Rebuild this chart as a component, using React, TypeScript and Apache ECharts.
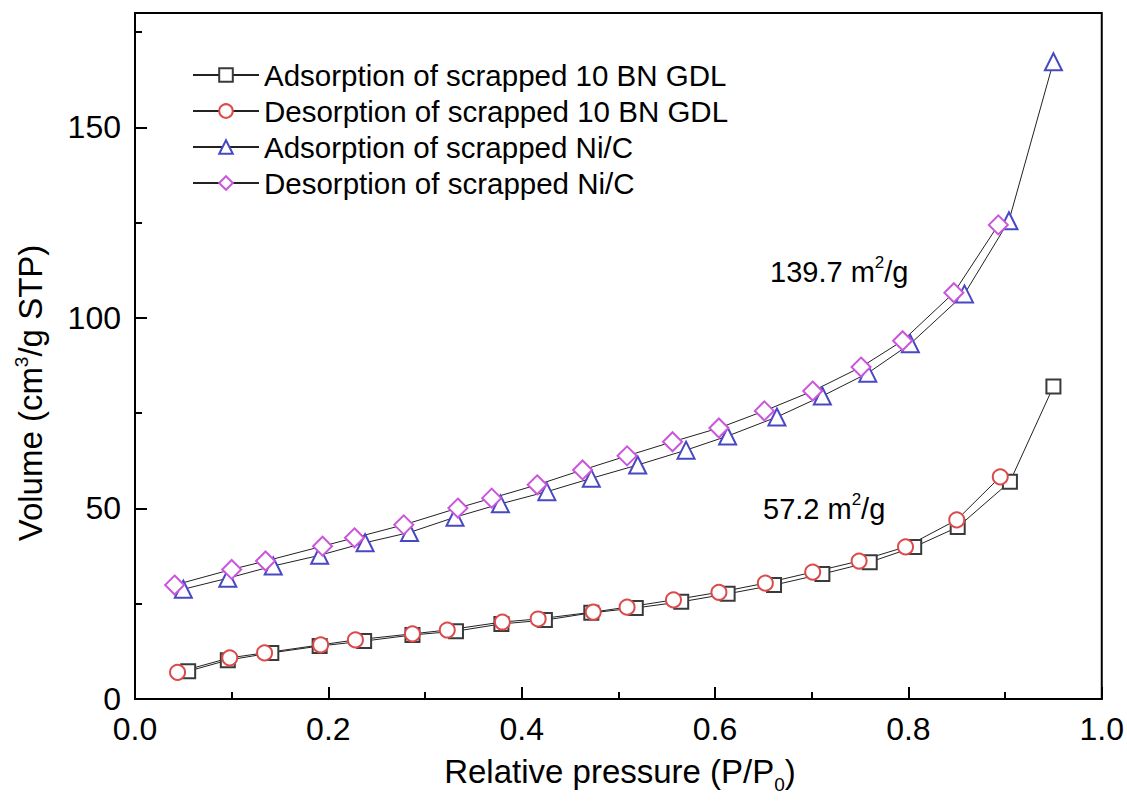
import React, { useEffect, useRef } from "react";
import * as echarts from "echarts";

// ---- data ----
const seriesNames = [
  "Adsorption of scrapped 10 BN GDL",
  "Desorption of scrapped 10 BN GDL",
  "Adsorption of scrapped Ni/C",
  "Desorption of scrapped Ni/C",
];

const adsGdlX = [0.055, 0.096, 0.141, 0.191, 0.237, 0.287, 0.332, 0.379, 0.424, 0.472, 0.518, 0.565, 0.613, 0.661, 0.711, 0.76, 0.806, 0.851, 0.905, 0.95];
const adsGdlY = [7.3, 10.2, 12.1, 13.9, 15.2, 16.8, 17.8, 19.7, 20.7, 22.6, 23.9, 25.5, 27.6, 29.9, 32.8, 35.9, 39.9, 45.1, 57.0, 82.0];

const desGdlX = [0.044, 0.098, 0.134, 0.192, 0.228, 0.287, 0.323, 0.38, 0.417, 0.474, 0.509, 0.557, 0.604, 0.652, 0.701, 0.749, 0.797, 0.85, 0.895];
const desGdlY = [7.0, 10.8, 12.1, 14.2, 15.5, 17.1, 18.1, 20.2, 21.0, 22.8, 24.1, 26.0, 28.0, 30.4, 33.3, 36.2, 39.9, 47.0, 58.3];

const adsNiX = [0.05, 0.096, 0.143, 0.191, 0.238, 0.284, 0.331, 0.378, 0.426, 0.472, 0.52, 0.57, 0.613, 0.664, 0.711, 0.758, 0.802, 0.858, 0.904, 0.95];
const adsNiY = [28.8, 31.7, 34.9, 37.7, 41.0, 43.7, 47.7, 51.2, 54.4, 57.9, 61.4, 65.3, 69.0, 74.0, 79.5, 85.5, 93.2, 106.3, 125.5, 167.2];

const desNiX = [0.041, 0.1, 0.135, 0.194, 0.227, 0.278, 0.334, 0.369, 0.416, 0.463, 0.509, 0.556, 0.604, 0.651, 0.701, 0.751, 0.794, 0.847, 0.893];
const desNiY = [29.9, 34.0, 36.2, 40.1, 42.3, 45.7, 50.1, 52.7, 56.2, 60.1, 63.8, 67.5, 71.1, 75.6, 80.8, 87.1, 94.0, 106.6, 124.4];

const yMajorTicks = [0, 50, 100, 150];
const yMinorTicks = [25, 75, 125, 175];

const FONT = "'Liberation Sans', Arial, sans-serif";

const pairs = (xs: number[], ys: number[]) => xs.map((x, i) => [x, ys[i]]);

export default function App() {
  const ref = useRef<HTMLDivElement>(null);

  useEffect(() => {
    if (!ref.current) return;
    const chart = echarts.init(ref.current, null, { renderer: "svg" });

    const mk = (
      name: string,
      data: number[][],
      symbol: string,
      size: number,
      color: string
    ) => ({
      name,
      type: "line",
      data,
      symbol,
      symbolSize: size,
      showSymbol: true,
      itemStyle: { color, borderColor: color, borderWidth: 1.3 },
      lineStyle: { color: "#222", width: 1 },
      emphasis: { disabled: true },
    });

    const rich = {
      n: { fontSize: 33, fontFamily: FONT, color: "#000", lineHeight: 40 },
      sup: { fontSize: 19, fontFamily: FONT, color: "#000", verticalAlign: "top", lineHeight: 40, padding: [2, 0, 0, 0] },
      sub: { fontSize: 19, fontFamily: FONT, color: "#000", verticalAlign: "bottom", lineHeight: 40, padding: [0, 0, -3, 0] },
    };
    const annRich = {
      n: { fontSize: 29, fontFamily: FONT, color: "#000", lineHeight: 36 },
      sup: { fontSize: 17, fontFamily: FONT, color: "#000", verticalAlign: "top", lineHeight: 36 },
    };

    chart.setOption({
      animation: false,
      backgroundColor: "#fff",
      grid: {
        left: 135,
        right: 25,
        top: 13,
        bottom: 104,
        show: true,
        borderColor: "#000",
        borderWidth: 2,
        backgroundColor: "transparent",
      },
      legend: {
        orient: "vertical",
        left: 187,
        top: 55,
        itemWidth: 66,
        itemHeight: 17,
        itemGap: 6,
        textStyle: { fontSize: 29.5, fontFamily: FONT, color: "#000", lineHeight: 30 },
        data: seriesNames,
        selectedMode: false,
      },
      xAxis: {
        type: "value",
        min: 0,
        max: 1,
        interval: 0.2,
        axisLine: { show: true, lineStyle: { color: "#000", width: 2 } },
        axisTick: { show: true, inside: true, length: 12, lineStyle: { color: "#000", width: 2 } },
        minorTick: { show: true, splitNumber: 2, length: 7, lineStyle: { color: "#000", width: 2 } },
        axisLabel: {
          fontSize: 32,
          fontFamily: FONT,
          color: "#000",
          margin: 14,
          formatter: (v: number) => v.toFixed(1),
        },
        splitLine: { show: false },
      },
      yAxis: [
        {
          type: "value",
          min: 0,
          max: 180,
          axisLine: { show: true, lineStyle: { color: "#000", width: 2 } },
          axisTick: { show: true, inside: true, length: 12, customValues: yMajorTicks, lineStyle: { color: "#000", width: 2 } },
          axisLabel: {
            fontSize: 32,
            fontFamily: FONT,
            color: "#000",
            margin: 14,
            customValues: yMajorTicks,
          },
          splitLine: { show: false },
        },
        {
          type: "value",
          min: 0,
          max: 180,
          position: "left",
          axisLine: { show: false },
          axisTick: { show: true, inside: true, length: 7, customValues: yMinorTicks, lineStyle: { color: "#000", width: 2 } },
          axisLabel: { show: false },
          splitLine: { show: false },
        },
      ],
      series: [
        mk(seriesNames[0], pairs(adsGdlX, adsGdlY), "emptyRect", 14, "#3a3a3a"),
        mk(seriesNames[1], pairs(desGdlX, desGdlY), "emptyCircle", 15, "#dd4a4a"),
        mk(seriesNames[2], pairs(adsNiX, adsNiY), "emptyTriangle", 17, "#4848c4"),
        mk(seriesNames[3], pairs(desNiX, desNiY), "emptyDiamond", 19, "#cc55dd"),
      ],
      graphic: [
        {
          type: "text",
          x: 30,
          y: 393,
          rotation: Math.PI / 2,
          style: {
            text: "{n|Volume (cm}{sup|3}{n|/g STP)}",
            rich,
            align: "center",
            verticalAlign: "middle",
          },
        },
        {
          type: "text",
          x: 620,
          y: 771,
          style: {
            text: "{n|Relative pressure (P/P}{sub|0}{n|)}",
            rich,
            align: "center",
            verticalAlign: "middle",
          },
        },
        {
          type: "text",
          x: 770,
          y: 272,
          style: {
            text: "{n|139.7 m}{sup|2}{n|/g}",
            rich: annRich,
            align: "left",
            verticalAlign: "middle",
          },
        },
        {
          type: "text",
          x: 763,
          y: 509,
          style: {
            text: "{n|57.2 m}{sup|2}{n|/g}",
            rich: annRich,
            align: "left",
            verticalAlign: "middle",
          },
        },
      ],
    });

    return () => chart.dispose();
  }, []);

  return (
    <div
      ref={ref}
      style={{ position: "fixed", left: 0, top: 0, width: 1127, height: 803, background: "#fff" }}
    />
  );
}
